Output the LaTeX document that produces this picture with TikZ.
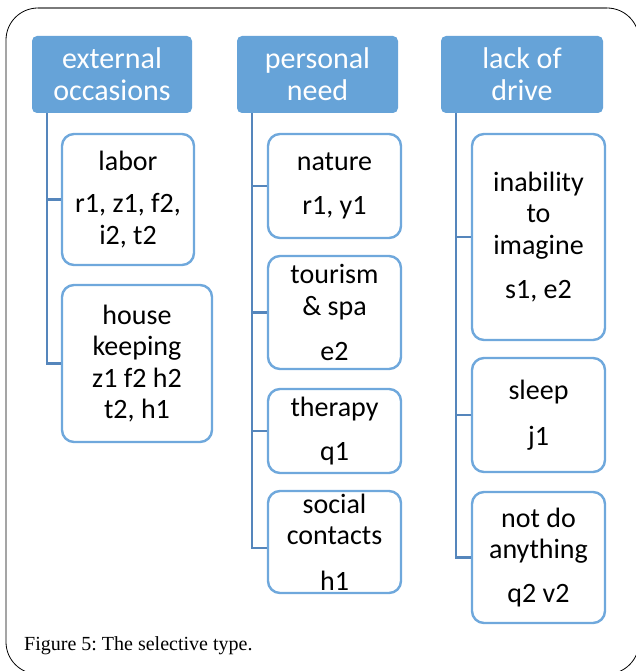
\documentclass[tikz,border=0pt]{standalone}
\usepackage{fontspec}
\setmainfont{Liberation Serif}
\newfontfamily\boxfont{Carlito}
\definecolor{headfill}{HTML}{66A3D8}
\definecolor{boxline}{HTML}{6FA8DC}
\definecolor{trunk}{HTML}{5586BC}
\definecolor{frametop}{HTML}{7A7A7A}
\tikzset{
  head/.style={fill=headfill, rounded corners=5pt, inner sep=0pt, align=center,
    text=white, font=\boxfont\fontsize{30}{32}\selectfont},
  item/.style={draw=boxline, line width=2.4pt, fill=white, rounded corners=12pt,
    inner sep=0pt, align=center, text=black,
    font=\boxfont\fontsize{28}{31.5}\selectfont},
  conn/.style={draw=trunk, line width=2.6pt},
}
\begin{document}
\begin{tikzpicture}[x=1pt,y=-1pt]
\useasboundingbox (0,0) rectangle (636,671);
\clip (0,0) rectangle (636,671);
% outer frame
\draw[black, line width=0.8pt, rounded corners=32pt] (6,8) rectangle (639,674);
\draw[frametop, line width=2pt] (38,8) -- (607,8);

% column headers
\node[head, minimum width=160pt, minimum height=77pt] (h1) at (112,74.5) {external\\occasions};
\node[head, minimum width=161pt, minimum height=77pt] (h2) at (317.5,74.5) {personal\\need};
\node[head, minimum width=162pt, minimum height=77pt] (h3) at (522,74.5) {lack of\\drive};

\coordinate (t1) at ([xshift=15pt]h1.south west);
\coordinate (t2) at ([xshift=15pt]h2.south west);
\coordinate (t3) at ([xshift=15pt]h3.south west);

% column 1
\node[item, minimum width=132pt, minimum height=131pt] (labor) at (128,199.5) {labor\\[11pt]r1, z1, f2,\\i2, t2};
\node[item, minimum width=150pt, minimum height=157pt] (house) at (137,363.5) {house\\keeping\\z1 f2 h2\\t2, h1};

% column 2
\node[item, minimum width=133pt, minimum height=104pt] (nature) at (334.5,186) {nature\\[13pt]r1, y1};
\node[item, minimum width=133pt, minimum height=113pt] (tourism) at (334.5,312.5) {tourism\\\&~spa\\[14pt]e2};
\node[item, minimum width=133pt, minimum height=84pt] (therapy) at (334.5,431) {therapy\\[13pt]q1};
\node[item, minimum width=133pt, minimum height=102pt] (social) at (334.5,542) {social\\contacts\\[14pt]h1};

% column 3
\node[item, minimum width=133pt, minimum height=206pt] (inab) at (538.5,237) {inability\\to\\imagine\\[13pt]s1, e2};
\node[item, minimum width=133pt, minimum height=114pt] (sleep) at (538.5,415) {sleep\\[14pt]j1};
\node[item, minimum width=133pt, minimum height=131pt] (nodo) at (538.5,557.5) {not do\\anything\\[12pt]q2 v2};

% connectors
\draw[conn] (t1) |- (house.west);
\draw[conn] (labor.west) -- (labor.west -| t1);
\draw[conn] (t2) |- ([yshift=-6pt]social.west);
\draw[conn] (nature.west) -- (nature.west -| t2);
\draw[conn] (tourism.west) -- (tourism.west -| t2);
\draw[conn] (therapy.west) -- (therapy.west -| t2);
\draw[conn] (t3) |- (nodo.west);
\draw[conn] (inab.west) -- (inab.west -| t3);
\draw[conn] (sleep.west) -- (sleep.west -| t3);

% caption
\node[anchor=base west, inner sep=0pt, font=\frenchspacing\fontsize{20}{22}\selectfont] (cap) at (24,650) {Figure 5: The selective type.};
\end{tikzpicture}
\end{document}
